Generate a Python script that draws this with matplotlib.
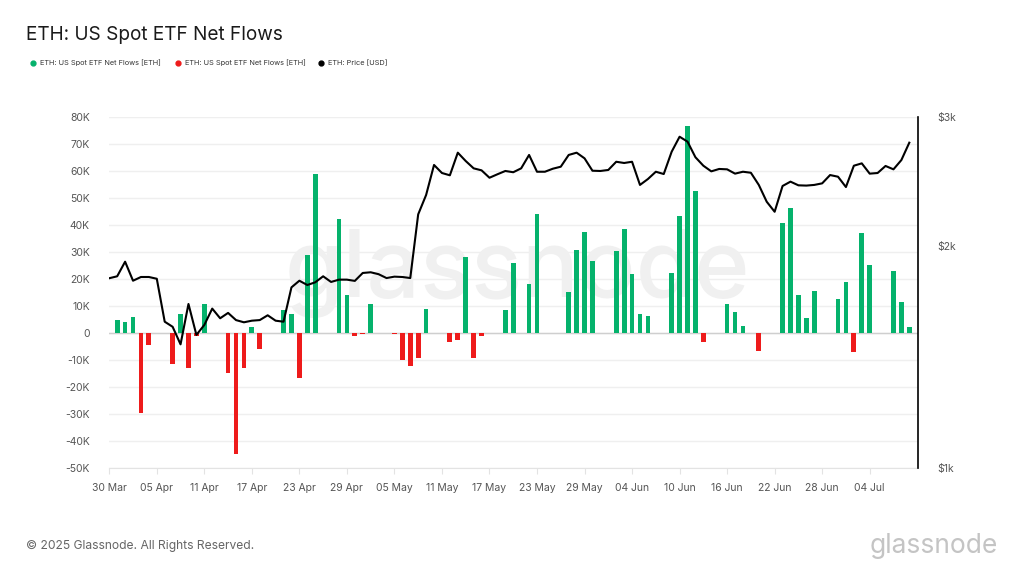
import matplotlib
matplotlib.use("Agg")
import matplotlib.pyplot as plt
import matplotlib.dates as mdates
from matplotlib.lines import Line2D
from matplotlib.ticker import NullLocator
import numpy as np
import pandas as pd

plt.rcParams['font.family'] = ['Inter', 'DejaVu Sans']

# daily series, one row per week (Sun..Sat), starting 30 Mar 2025
start = "2025-03-30"

price_usd = [
    1811, 1822, 1907, 1797, 1818, 1818, 1808,
    1581, 1556, 1473, 1671, 1517, 1565, 1647,
    1598, 1625, 1589, 1578, 1586, 1589, 1613,
    1586, 1581, 1760, 1797, 1773, 1788, 1822,
    1790, 1803, 1803, 1796, 1841, 1845, 1834,
    1812, 1820, 1818, 1812, 2211, 2349, 2580,
    2516, 2498, 2681, 2612, 2553, 2537, 2479,
    2506, 2532, 2522, 2553, 2662, 2526, 2526,
    2550, 2566, 2662, 2681, 2634, 2534, 2532,
    2540, 2606, 2596, 2606, 2424, 2469, 2526,
    2508, 2689, 2818, 2775, 2643, 2574, 2529,
    2548, 2545, 2511, 2526, 2518, 2424, 2300,
    2229, 2416, 2449, 2421, 2419, 2424, 2436,
    2500, 2487, 2408, 2574, 2593, 2511, 2516,
    2572, 2545, 2620, 2766,
]

# net flows in thousands of ETH (None = no trading day)
flows_k = [
    None, 4.8, 4.2, 5.8, -29.7, -4.3, None,
    None, -11.3, 7.0, -12.9, -1.0, 10.7, None,
    None, -14.6, -44.8, -12.9, 2.2, -5.9, None,
    None, 8.7, 6.9, -16.8, 29.0, 58.9, None,
    None, 42.0, 13.9, -1.2, -0.5, 10.8, None,
    None, -0.2, -9.8, -12.0, -9.2, 9.0, None,
    None, -3.3, -2.6, 28.0, -9.1, -1.1, None,
    None, 8.5, 26.0, 0.2, 18.0, 44.2, None,
    None, None, 15.2, 30.7, 37.5, 26.6, None,
    None, 30.3, 38.3, 21.8, 7.1, 6.3, None,
    None, 22.2, 43.2, 76.7, 52.6, -3.4, None,
    None, 10.6, 7.9, 2.6, None, -6.6, None,
    None, 40.6, 46.4, 13.9, 5.4, 15.6, None,
    None, 12.5, 18.9, -7.1, 36.9, 25.2, None,
    None, 22.9, 11.3, 2.1,
]

flow_ticks_k = list(range(-50, 81, 10))
price_ticks = [1000, 2000, 3000]
price_tick_labels = ["$1k", "$2k", "$3k"]
legend_labels = ["ETH: US Spot ETF Net Flows [ETH]",
                 "ETH: US Spot ETF Net Flows [ETH]",
                 "ETH: Price [USD]"]

GREEN = "#05b26c"
RED = "#ee1b1b"
GRID = "#efefef"
TICK_COLOR = "#555555"

dates = pd.date_range(start, periods=len(price_usd), freq="D")
x = mdates.date2num(dates)
flows = np.array([np.nan if v is None else v for v in flows_k])
has = ~np.isnan(flows)
bar_colors = [GREEN if v >= 0 else RED for v in flows[has]]

fig = plt.figure(figsize=(10.24, 5.76), dpi=100)
ax = fig.add_axes([0.1067, 0.187, 0.7898, 0.6104])

# watermark
ax.text(0.505, 0.525, "glassnode", transform=fig.transFigure, fontsize=68,
        color="#f0f0f0", ha="center", va="center", zorder=1, fontweight="medium")

ax.bar(x[has], flows[has], width=0.6, color=bar_colors, zorder=3)
ax.axhline(0, color="#cfcfcf", lw=1, zorder=2)

ax.set_ylim(-50, 80)
ax.set_yticks(flow_ticks_k)
ax.set_yticklabels([f"{t}K" if t != 0 else "0" for t in flow_ticks_k])
ax.grid(axis="y", color=GRID, lw=1)
ax.set_axisbelow(True)

ax.set_xlim(x[0], x[0] + 102.1)
ax.set_xticks(mdates.date2num(pd.date_range(start, "2025-07-04", freq="6D")))
ax.xaxis.set_major_formatter(mdates.DateFormatter("%d %b"))

for s in ["top", "left", "right"]:
    ax.spines[s].set_visible(False)
ax.spines["bottom"].set_color("#e3e3e3")
ax.tick_params(axis="x", length=4, color="#e3e3e3", labelcolor=TICK_COLOR,
               labelsize=7.5, pad=6.5)
ax.tick_params(axis="y", length=0, labelcolor=TICK_COLOR, labelsize=7.5, pad=14)

ax2 = ax.twinx()
ax2.plot(x, price_usd, color="black", lw=1.5, zorder=4)
ax2.set_yscale("log")
ax2.set_ylim(1000, 3000)
ax2.set_yticks(price_ticks)
ax2.set_yticklabels(price_tick_labels)
ax2.yaxis.set_minor_locator(NullLocator())
ax2.tick_params(axis="y", length=0, labelcolor=TICK_COLOR, labelsize=7.5, pad=14)
for s in ["top", "left", "bottom"]:
    ax2.spines[s].set_visible(False)
ax2.spines["right"].set_color("black")
ax2.spines["right"].set_linewidth(1.2)

# title, legend, footer
fig.text(0.0254, 0.939, "ETH: US Spot ETF Net Flows", fontsize=13.7,
         color="#1a1a1a", va="center", ha="left")

leg_x = [0.0322, 0.1738, 0.3135]
for lx, col, lab in zip(leg_x, [GREEN, RED, "black"], legend_labels):
    fig.add_artist(Line2D([lx], [0.8906], marker="o", markersize=3.5,
                          color=col, transform=fig.transFigure))
    fig.text(lx + 0.0065, 0.8906, lab, fontsize=5.3, color="#333333",
             va="center", ha="left")

fig.text(0.0254, 0.052, "\u00a9 2025 Glassnode. All Rights Reserved.",
         fontsize=8.7, color="#666666", va="center", ha="left")
fig.text(0.974, 0.052, "glassnode", fontsize=19, color="#c4c4c4",
         va="center", ha="right")

fig.savefig("out.png", dpi=100, facecolor="white")
